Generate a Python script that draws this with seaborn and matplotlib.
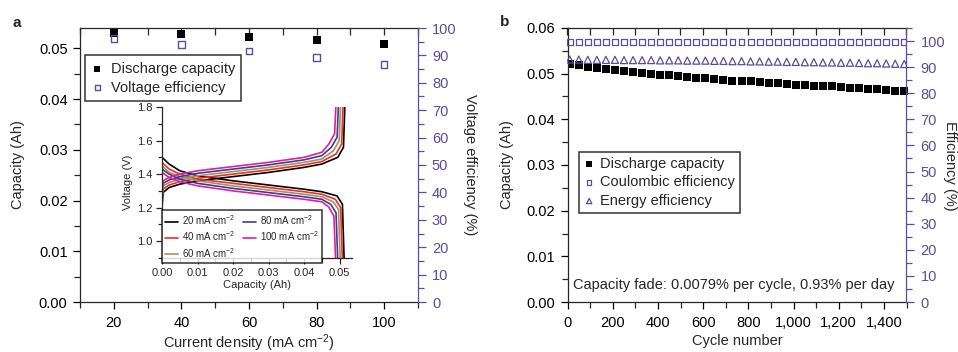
import matplotlib
matplotlib.use("Agg")
import matplotlib.pyplot as plt
from matplotlib.ticker import MultipleLocator, FuncFormatter, FormatStrFormatter
import seaborn as sns

# ---------------- data ----------------
# Panel a
current_density = [20, 40, 60, 80, 100]
discharge_capacity_a = [0.0531, 0.0528, 0.0522, 0.0516, 0.0508]
voltage_efficiency = [96.2, 94.0, 91.6, 89.2, 86.7]

# Inset: charge / discharge curves (capacity Ah, voltage V)
curve_labels = ["20 mA cm$^{-2}$", "40 mA cm$^{-2}$", "60 mA cm$^{-2}$",
                "80 mA cm$^{-2}$", "100 mA cm$^{-2}$"]
charge_cap = [
    [0.0, 0.0003, 0.002, 0.005, 0.01, 0.02, 0.03, 0.04, 0.045, 0.0495, 0.0511, 0.0515],
    [0.0, 0.0003, 0.002, 0.005, 0.01, 0.02, 0.03, 0.04, 0.045, 0.0490, 0.0506, 0.0510],
    [0.0, 0.0003, 0.002, 0.005, 0.01, 0.02, 0.03, 0.04, 0.045, 0.0483, 0.0499, 0.0503],
    [0.0, 0.0003, 0.002, 0.005, 0.01, 0.02, 0.03, 0.04, 0.045, 0.0477, 0.0493, 0.0497],
    [0.0, 0.0003, 0.002, 0.005, 0.01, 0.02, 0.03, 0.04, 0.045, 0.0470, 0.0486, 0.0490],
]
charge_v = [
    [1.20, 1.29, 1.32, 1.34, 1.36, 1.385, 1.41, 1.44, 1.46, 1.50, 1.56, 1.82],
    [1.23, 1.31, 1.335, 1.355, 1.375, 1.40, 1.425, 1.455, 1.475, 1.52, 1.58, 1.82],
    [1.26, 1.33, 1.35, 1.37, 1.39, 1.415, 1.44, 1.47, 1.49, 1.54, 1.60, 1.82],
    [1.29, 1.345, 1.365, 1.385, 1.405, 1.43, 1.455, 1.485, 1.51, 1.56, 1.62, 1.82],
    [1.32, 1.36, 1.38, 1.40, 1.42, 1.445, 1.47, 1.50, 1.53, 1.58, 1.64, 1.82],
]
discharge_cap = [
    [0.0, 0.002, 0.005, 0.01, 0.02, 0.03, 0.04, 0.045, 0.0493, 0.0508, 0.0513],
    [0.0, 0.002, 0.005, 0.01, 0.02, 0.03, 0.04, 0.045, 0.0488, 0.0503, 0.0508],
    [0.0, 0.002, 0.005, 0.01, 0.02, 0.03, 0.04, 0.045, 0.0482, 0.0497, 0.0502],
    [0.0, 0.002, 0.005, 0.01, 0.02, 0.03, 0.04, 0.045, 0.0475, 0.0490, 0.0495],
    [0.0, 0.002, 0.005, 0.01, 0.02, 0.03, 0.04, 0.045, 0.0469, 0.0484, 0.0489],
]
discharge_v = [
    [1.50, 1.46, 1.42, 1.39, 1.36, 1.335, 1.31, 1.295, 1.27, 1.22, 0.88],
    [1.47, 1.43, 1.40, 1.37, 1.345, 1.32, 1.295, 1.28, 1.25, 1.20, 0.88],
    [1.45, 1.41, 1.385, 1.36, 1.33, 1.305, 1.28, 1.265, 1.235, 1.19, 0.88],
    [1.43, 1.40, 1.37, 1.345, 1.315, 1.29, 1.265, 1.25, 1.22, 1.17, 0.88],
    [1.41, 1.38, 1.355, 1.33, 1.30, 1.275, 1.25, 1.235, 1.205, 1.15, 0.88],
]

# Panel b
cycle_number = [10, 50, 90, 130, 170, 210, 250, 290, 330, 370, 410, 450, 490,
                530, 570, 610, 650, 690, 730, 770, 810, 850, 890, 930, 970,
                1010, 1050, 1090, 1130, 1170, 1210, 1250, 1290, 1330, 1370,
                1410, 1450, 1490]
discharge_capacity_b = [0.0521, 0.0518, 0.0515, 0.0512, 0.0510, 0.0507, 0.0505,
                        0.0503, 0.0501, 0.0499, 0.0497, 0.0496, 0.0494, 0.0493,
                        0.0491, 0.0490, 0.0488, 0.0487, 0.0485, 0.0484, 0.0483,
                        0.0481, 0.0480, 0.0479, 0.0478, 0.0476, 0.0475, 0.0474,
                        0.0473, 0.0472, 0.0470, 0.0469, 0.0468, 0.0467, 0.0466,
                        0.0464, 0.0463, 0.0461]
coulombic_efficiency = [99.8, 99.8, 99.8, 99.8, 99.8, 99.8, 99.8, 99.8, 99.8,
                        99.8, 99.8, 99.8, 99.8, 99.8, 99.8, 99.8, 99.8, 99.8,
                        99.8, 99.8, 99.8, 99.8, 99.8, 99.8, 99.8, 99.8, 99.8,
                        99.8, 99.8, 99.8, 99.8, 99.8, 99.8, 99.8, 99.8, 99.8,
                        99.8, 99.8]
energy_efficiency = [92.9, 92.9, 92.8, 92.8, 92.8, 92.8, 92.7, 92.7, 92.7, 92.7,
                     92.6, 92.6, 92.6, 92.5, 92.5, 92.5, 92.4, 92.4, 92.3, 92.3,
                     92.2, 92.2, 92.1, 92.1, 92.0, 92.0, 91.9, 91.9, 91.8, 91.8,
                     91.7, 91.7, 91.6, 91.5, 91.5, 91.4, 91.3, 91.2]

# ---------------- style ----------------
sns.set_theme(style="ticks")
plt.rcParams["font.family"] = ["Liberation Sans", "DejaVu Sans"]
plt.rcParams["mathtext.fontset"] = "custom"
plt.rcParams["mathtext.rm"] = "Liberation Sans"
plt.rcParams["mathtext.it"] = "Liberation Sans:italic"
plt.rcParams["mathtext.bf"] = "Liberation Sans:bold"
plt.rcParams["axes.linewidth"] = 0.9

PURPLE = "#5b4c9e"
LINE_COLORS = ["#000000", "#e8302c", "#a89058", "#3d3a9a", "#e0209a"]
FS = 10.5

W, H = 958, 352
fig = plt.figure(figsize=(W / 100, H / 100), dpi=100)


def px_axes(l, t, r, b):
    return fig.add_axes([l / W, 1 - b / H, (r - l) / W, (b - t) / H])


def style_main(ax, ax2):
    ax.spines["right"].set_visible(False)
    for s in ["left", "top", "bottom"]:
        ax2.spines[s].set_visible(False)
    ax2.spines["right"].set_color(PURPLE)
    ax.tick_params(axis="both", which="major", length=5, width=0.9,
                   direction="out", labelsize=FS, colors="black", pad=4)
    ax.tick_params(axis="both", which="minor", length=4, width=0.9,
                   direction="out")
    ax.tick_params(axis="x", which="major", pad=5)
    ax.tick_params(top=False, right=False, which="both")
    ax2.tick_params(axis="y", which="major", length=6, width=0.9,
                    direction="out", labelsize=FS, colors=PURPLE, pad=4)
    ax2.tick_params(axis="y", which="minor", length=4, width=0.9,
                    direction="out", colors=PURPLE)
    ax.set_xlabel("")
    ax.set_ylabel("")
    ax2.set_ylabel("")


# ---------------- panel a ----------------
axa = px_axes(80, 28, 418, 302)
axa2 = axa.twinx()
sns.scatterplot(x=current_density, y=discharge_capacity_a, marker="s", s=30,
                color="black", linewidth=0, ax=axa, label="Discharge capacity",
                legend=False)
sns.scatterplot(x=current_density, y=voltage_efficiency, marker="s", s=20,
                facecolor="none", edgecolor=PURPLE, linewidth=1.0, ax=axa2,
                label="Voltage efficiency", legend=False)
axa.set_xlim(10, 110)
axa.set_ylim(0, 0.054)
axa2.set_ylim(0, 100)
axa.xaxis.set_major_locator(MultipleLocator(20))
axa.xaxis.set_minor_locator(MultipleLocator(10))
axa.yaxis.set_major_locator(MultipleLocator(0.01))
axa.yaxis.set_minor_locator(MultipleLocator(0.005))
axa.yaxis.set_major_formatter(FormatStrFormatter("%.2f"))
axa2.yaxis.set_major_locator(MultipleLocator(10))
axa2.yaxis.set_minor_locator(MultipleLocator(5))
style_main(axa, axa2)
seca = axa.secondary_xaxis("top")
seca.xaxis.set_major_locator(MultipleLocator(10))
seca.tick_params(which="both", direction="in", length=5, width=0.9,
                 labeltop=False)
for s in seca.spines.values():
    s.set_visible(False)

h1, l1 = axa.get_legend_handles_labels()
h2, l2 = axa2.get_legend_handles_labels()
lega = axa2.legend(h1 + h2, l1 + l2, loc="upper left",
                   bbox_to_anchor=((85 - 80) / 338, (302 - 55) / 274),
                   borderaxespad=0, fontsize=FS, frameon=True, fancybox=False,
                   edgecolor="black", handlelength=0.8, handletextpad=0.5,
                   borderpad=0.45, labelspacing=0.35, markerscale=0.8)
lega.get_frame().set_linewidth(1.1)

# inset
axin = px_axes(162, 107, 352, 258)
axin.patch.set_alpha(0)
for i in range(5):
    sns.lineplot(x=charge_cap[i], y=charge_v[i], sort=False, estimator=None,
                 color=LINE_COLORS[i], linewidth=1.2, ax=axin,
                 label=curve_labels[i], legend=False)
    sns.lineplot(x=discharge_cap[i], y=discharge_v[i], sort=False,
                 estimator=None, color=LINE_COLORS[i], linewidth=1.2, ax=axin)
axin.set_xlim(0, 0.0535)
axin.set_ylim(0.9, 1.8)
axin.spines["top"].set_visible(False)
axin.spines["right"].set_visible(False)
axin.xaxis.set_major_locator(MultipleLocator(0.01))
axin.xaxis.set_minor_locator(MultipleLocator(0.005))
axin.xaxis.set_major_formatter(FormatStrFormatter("%.2f"))
axin.yaxis.set_major_locator(MultipleLocator(0.2))
axin.yaxis.set_minor_locator(MultipleLocator(0.1))
axin.yaxis.set_major_formatter(FormatStrFormatter("%.1f"))
axin.tick_params(which="major", length=4, width=0.9, labelsize=8, pad=3)
axin.tick_params(which="minor", length=3, width=0.9)
axin.set_xlabel("Capacity (Ah)", fontsize=8, labelpad=2)
axin.set_ylabel("Voltage (V)", fontsize=8, labelpad=3)
hi, li = axin.get_legend_handles_labels()
legi = axin.legend(hi, li, loc="upper left", ncol=2,
                   bbox_to_anchor=(0.0, (258 - 210) / 151), borderaxespad=0,
                   fontsize=7, frameon=True, fancybox=False, edgecolor="black",
                   handlelength=1.3, handletextpad=0.4, columnspacing=0.8,
                   borderpad=0.35, labelspacing=0.25)
legi.get_frame().set_linewidth(1.1)

fig.text(18.5 / W, 1 - 165 / H, "Capacity (Ah)", rotation=90, ha="center",
         va="center", fontsize=FS)
fig.text(470 / W, 1 - 165 / H, "Voltage efficiency (%)", rotation=270,
         ha="center", va="center", fontsize=FS)
fig.text(249 / W, 1 - 343 / H, "Current density (mA cm$^{-2}$)", ha="center",
         va="center", fontsize=FS)
fig.text(17 / W, 1 - 23 / H, "a", ha="center", va="center", fontsize=11,
         fontweight="bold")

# ---------------- panel b ----------------
axb = px_axes(567.5, 28, 906.5, 302)
axb2 = axb.twinx()
sns.scatterplot(x=cycle_number, y=discharge_capacity_b, marker="s", s=30,
                color="black", linewidth=0, ax=axb, label="Discharge capacity",
                legend=False)
sns.scatterplot(x=cycle_number, y=coulombic_efficiency, marker="s", s=18,
                facecolor="none", edgecolor=PURPLE, linewidth=0.9, ax=axb2,
                label="Coulombic efficiency", legend=False)
sns.scatterplot(x=cycle_number, y=energy_efficiency, marker="^", s=26,
                facecolor="none", edgecolor=PURPLE, linewidth=0.9, ax=axb2,
                label="Energy efficiency", legend=False)
axb.set_xlim(0, 1500)
axb.set_ylim(0, 0.06)
axb2.set_ylim(0, 105)
axb.xaxis.set_major_locator(MultipleLocator(200))
axb.xaxis.set_minor_locator(MultipleLocator(100))
axb.xaxis.set_major_formatter(FuncFormatter(lambda v, p: f"{int(v):,}"))
axb.yaxis.set_major_locator(MultipleLocator(0.01))
axb.yaxis.set_minor_locator(MultipleLocator(0.005))
axb.yaxis.set_major_formatter(FormatStrFormatter("%.2f"))
axb2.yaxis.set_major_locator(MultipleLocator(10))
axb2.yaxis.set_minor_locator(MultipleLocator(5))
axb2.set_yticks(range(0, 101, 10))
style_main(axb, axb2)
secb = axb.secondary_xaxis("top")
secb.xaxis.set_major_locator(MultipleLocator(100))
secb.tick_params(which="both", direction="in", length=5, width=0.9,
                 labeltop=False)
for s in secb.spines.values():
    s.set_visible(False)

h1, l1 = axb.get_legend_handles_labels()
h2, l2 = axb2.get_legend_handles_labels()
legb = axb2.legend(h1 + h2, l1 + l2, loc="upper left",
                   bbox_to_anchor=((579 - 567.5) / 339, (302 - 152) / 274),
                   borderaxespad=0, fontsize=FS, frameon=True, fancybox=False,
                   edgecolor="black", handlelength=0.7, handletextpad=0.4,
                   borderpad=0.35, labelspacing=0.3, markerscale=0.75)
legb.get_frame().set_linewidth(1.1)

axb.text((572.7 - 567.5) / 339, (302 - 285) / 274,
         "Capacity fade: 0.0079% per cycle, 0.93% per day",
         transform=axb.transAxes, ha="left", va="center", fontsize=FS)

fig.text(507 / W, 1 - 165 / H, "Capacity (Ah)", rotation=90, ha="center",
         va="center", fontsize=FS)
fig.text(950 / W, 1 - 166 / H, "Efficiency (%)", rotation=270, ha="center",
         va="center", fontsize=FS)
fig.text(737 / W, 1 - 340.5 / H, "Cycle number", ha="center", va="center",
         fontsize=FS)
fig.text(505 / W, 1 - 22 / H, "b", ha="center", va="center", fontsize=11,
         fontweight="bold")

fig.savefig("out.png", dpi=100)
